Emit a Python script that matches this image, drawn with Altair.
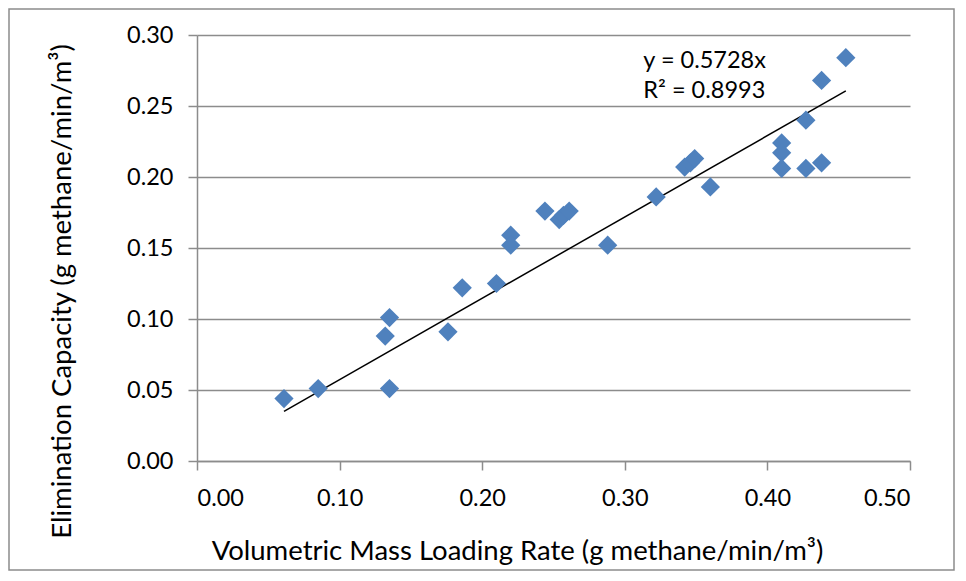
import altair as alt
import pandas as pd

# Data
loading_rate = [0.061, 0.085, 0.132, 0.135, 0.135, 0.176, 0.186, 0.210, 0.220, 0.220,
                0.244, 0.254, 0.257, 0.261, 0.288, 0.322, 0.342, 0.346, 0.349, 0.360,
                0.410, 0.410, 0.410, 0.427, 0.427, 0.438, 0.438, 0.455]
elimination = [0.044, 0.051, 0.088, 0.101, 0.051, 0.091, 0.122, 0.125, 0.159, 0.152,
               0.176, 0.170, 0.173, 0.176, 0.152, 0.186, 0.207, 0.210, 0.213, 0.193,
               0.224, 0.217, 0.206, 0.240, 0.206, 0.268, 0.210, 0.284]
slope = 0.5728
eq_lines = ["y = 0.5728x", "R² = 0.8993"]
eq_x = [0.313, 0.313]
eq_y = [0.2815, 0.2605]
x_ticks = [0.0, 0.1, 0.2, 0.3, 0.4, 0.5]
y_ticks = [0.0, 0.05, 0.10, 0.15, 0.20, 0.25, 0.30]

FONT = "Lato"
GRID = "#8c8c8c"

df = pd.DataFrame({"x": loading_rate, "y": elimination})
trend = pd.DataFrame({"x": [min(loading_rate), max(loading_rate)]})
trend["y"] = trend["x"] * slope
eq = pd.DataFrame({"label": eq_lines, "x": eq_x, "y": eq_y})

xscale = alt.Scale(domain=[0, 0.5], nice=False, zero=True)
yscale = alt.Scale(domain=[0, 0.3], nice=False, zero=True)

points = alt.Chart(df).mark_point(
    shape="diamond", filled=True, size=370, color="#4F81BD", opacity=1
).encode(
    x=alt.X("x:Q", scale=xscale,
            axis=alt.Axis(values=x_ticks, format=".2f", grid=False,
                          title="Volumetric Mass Loading Rate (g methane/min/m³)",
                          titleX=320, titleY=98, titleAlign="center",
                          titleBaseline="alphabetic", titleAnchor=None,
                          labelPadding=16)),
    y=alt.Y("y:Q", scale=yscale,
            axis=alt.Axis(values=y_ticks, format=".2f", grid=True,
                          title="Elimination Capacity (g methane/min/m³)",
                          titleX=-127, titleY=256, titleAngle=270,
                          titleAlign="center", titleBaseline="alphabetic",
                          labelPadding=15)),
)

line = alt.Chart(trend).mark_line(color="black", strokeWidth=1.5).encode(
    x=alt.X("x:Q", scale=xscale), y=alt.Y("y:Q", scale=yscale)
)

text = alt.Chart(eq).mark_text(
    align="left", baseline="middle", font=FONT, fontSize=23.5, color="black"
).encode(
    x=alt.X("x:Q", scale=xscale), y=alt.Y("y:Q", scale=yscale), text="label:N"
)

border = alt.Chart(pd.DataFrame({"a": [0]})).mark_rect(
    fill=None, stroke=GRID, strokeWidth=1.5
).encode(
    x=alt.value(-188), x2=alt.value(757), y=alt.value(-26), y2=alt.value(535)
)

chart = alt.layer(border, line, points, text).properties(
    width=713, height=426,
    autosize=alt.AutoSizeParams(type="none"),
    padding={"left": 189, "top": 27, "right": 46, "bottom": 110},
).configure_view(stroke=None).configure_axis(
    labelFont=FONT, titleFont=FONT, labelFontSize=23.5, titleFontSize=27.5,
    titleFontWeight="normal", labelColor="black", titleColor="black",
    domainColor=GRID, tickColor=GRID, gridColor=GRID, domainWidth=1.5,
    tickWidth=1.5, gridWidth=1.5, tickSize=9,
)

chart.save("out.html", embed_options={"renderer": "svg", "actions": False})
